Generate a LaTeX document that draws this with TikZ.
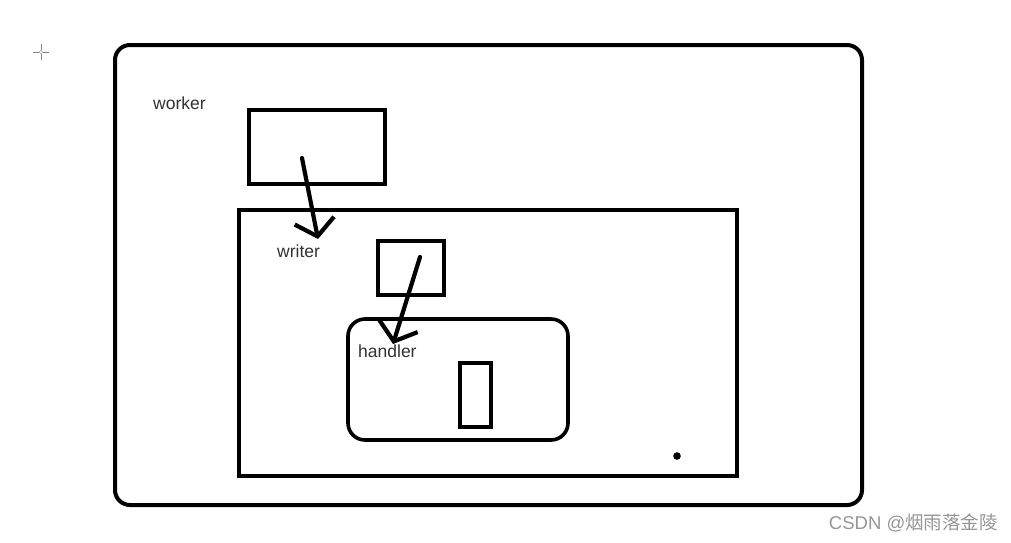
\documentclass[tikz,border=0pt]{standalone}
\usepackage{fontspec}
\setmainfont{Liberation Sans}
\newfontfamily\cjk{Noto Sans CJK SC}
\usetikzlibrary{arrows.meta}
\definecolor{lbl}{RGB}{50,50,50}
\definecolor{wm}{RGB}{150,150,150}
\tikzset{
  thick box/.style={draw=black, line width=4pt},
  mid box/.style={draw=black, line width=3.4pt},
  hand arrow/.style={draw=black, line width=4.2pt, line cap=round,
    -{Straight Barb[length=16pt,width=40pt,line width=4.2pt]}},
  lbltext/.style={text=lbl, font=\fontsize{17.5}{20}\selectfont, inner sep=0pt, anchor=west},
}
\begin{document}
\begin{tikzpicture}[x=1pt,y=-1pt]
\useasboundingbox (0,0) rectangle (1011,542);
\fill[white] (0,0) rectangle (1011,542);
% crosshair
\coordinate (ch) at (41,52);
\draw[gray, line width=1pt] ([xshift=-8pt]ch) -- ([xshift=-2pt]ch) ([xshift=2pt]ch) -- ([xshift=8pt]ch)
  ([yshift=-8pt]ch) -- ([yshift=-2pt]ch) ([yshift=2pt]ch) -- ([yshift=8pt]ch);
\draw[gray!70, line width=0.6pt] (ch) circle (1.8pt);
% outer
\draw[thick box, rounded corners=15pt] (115,45) rectangle (862,505);
\node[lbltext] (worker) at (153,103) {worker};
% box1
\draw[mid box] (249,110) rectangle (385,184);
\node (box1) at (317,147) {};
% mid
\draw[mid box] (239,210) rectangle (737,476);
\node[lbltext] (writer) at (277,251) {writer};
% box2
\draw[mid box] (378,241) rectangle (444,295);
% inner
\draw[thick box, line width=3.6pt, rounded corners=17pt] (348,319) rectangle (568,440);
\node[lbltext] (handler) at (358,351) {handler};
% small
\draw[mid box] (460,363) rectangle (491,427);
% dot
\fill (677,456) circle (3.8pt);
% arrows
\coordinate (a1s) at (302,158);
\coordinate (a1e) at (318,239);
\draw[hand arrow] (a1s) -- (a1e);
\coordinate (a2s) at (420,257);
\coordinate (a2e) at (393,344);
\draw[hand arrow] (a2s) -- (a2e);
% watermark
\node[anchor=east, text=wm, inner sep=0pt, font=\fontsize{18.5}{21}\selectfont] (wmark) at (998,523) {CSDN @{\cjk 烟雨落金陵}};
\end{tikzpicture}
\end{document}
